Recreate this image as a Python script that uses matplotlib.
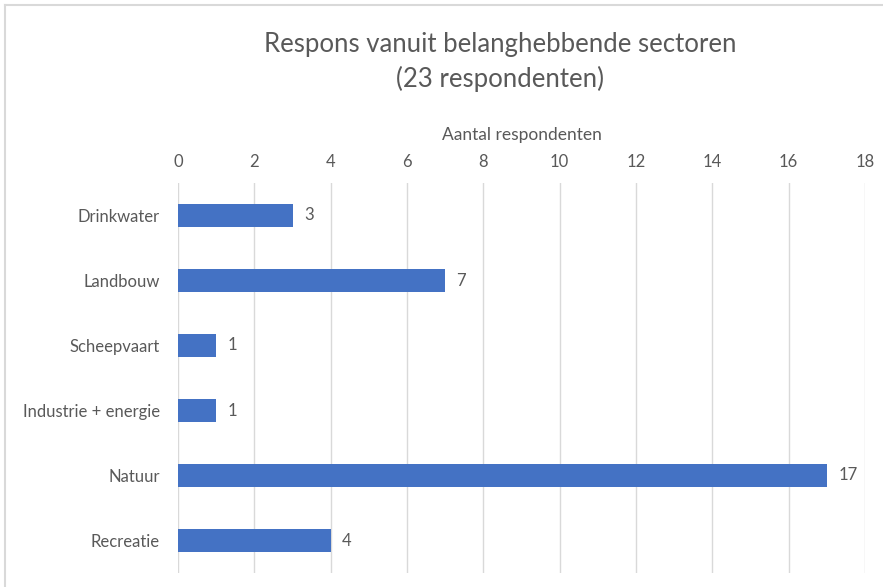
import matplotlib
matplotlib.use("Agg")
import matplotlib.pyplot as plt
from matplotlib.lines import Line2D

categories = ["Drinkwater", "Landbouw", "Scheepvaart", "Industrie + energie", "Natuur", "Recreatie"]
values = [3, 7, 1, 1, 17, 4]
xticks = [0, 2, 4, 6, 8, 10, 12, 14, 16, 18]
title = "Respons vanuit belanghebbende sectoren\n(23 respondenten)"
xlabel = "Aantal respondenten"

plt.rcParams['font.family'] = ['Lato', 'DejaVu Sans']
txt = "#595959"
W, H = 883, 587
fig = plt.figure(figsize=(W/100, H/100), dpi=100)
ax = fig.add_axes([178/W, 1-573/H, (865-178)/W, (573-183)/H])

ypos = list(range(len(categories)))
ax.barh(ypos, values, height=0.35, color="#4472C4", zorder=3)
ax.set_ylim(len(categories)-0.5, -0.5)
ax.set_xlim(0, 18)
ax.set_yticks(ypos)
ax.set_yticklabels(categories, fontsize=12, color=txt)
ax.set_xticks(xticks)
ax.set_xticklabels([str(t) for t in xticks], fontsize=12, color=txt)
ax.xaxis.tick_top()
ax.xaxis.set_label_position("top")
ax.tick_params(axis="both", length=0)
ax.tick_params(axis="x", pad=9.5)
ax.tick_params(axis="y", pad=13)
ax.grid(axis="x", color="#D9D9D9", linewidth=1, zorder=0)
for s in ax.spines.values():
    s.set_visible(False)
ax.set_xlabel(xlabel, fontsize=12.5, color=txt, labelpad=10)
for y, v in zip(ypos, values):
    ax.text(v + 0.3, y, str(v), va="center", ha="left", fontsize=12, color=txt)

fig.text(500/W, 1-62/H, title, ha="center", va="center", fontsize=18.5, color=txt, linespacing=1.38)

fig.add_artist(Line2D([5/W, 5/W], [0, 1-5/H], transform=fig.transFigure, color="#D9D9D9", lw=1.5))
fig.add_artist(Line2D([5/W, 1], [1-5/H, 1-5/H], transform=fig.transFigure, color="#D9D9D9", lw=1.5))

fig.savefig("out.png", dpi=100, facecolor="white")
